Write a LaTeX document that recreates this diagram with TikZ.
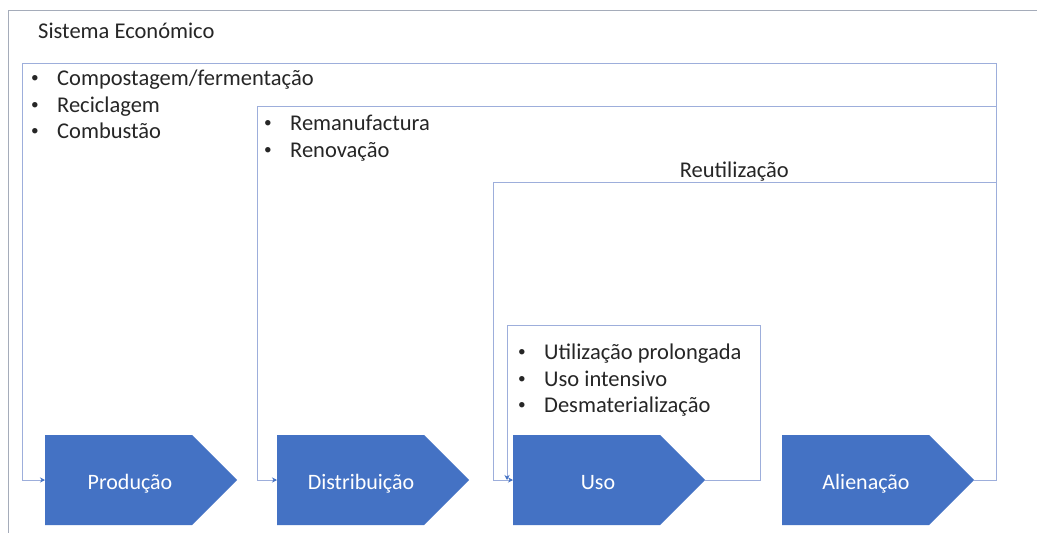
\documentclass[tikz,border=0pt]{standalone}
\usepackage{fontspec}
\usepackage{graphicx}
\setmainfont{Carlito}
\usetikzlibrary{shapes.symbols,arrows.meta}
\definecolor{stageblue}{HTML}{4472C4}
\definecolor{lineblue}{HTML}{9DAEDB}
\definecolor{framegray}{HTML}{A5ACBA}
\newcommand\bulletmark{\makebox[0pt][r]{\makebox[26pt][l]{\raisebox{2.2pt}{\scalebox{0.68}{•}}}}}
\begin{document}
\begin{tikzpicture}[x=1pt,y=-1pt,
  flow/.style={draw=lineblue, line width=0.9pt},
  flowarrow/.style={flow, -{Stealth[length=5pt,width=5pt,color=stageblue]}},
  stage/.style={signal, signal to=east, signal pointer angle=90, fill=stageblue, draw=none,
    minimum width=192pt, minimum height=90pt, inner sep=0pt, anchor=west},
  stagelabel/.style={inner sep=0pt, anchor=base, text=white, font=\fontsize{22}{26}\selectfont},
  item/.style={anchor=base west, inner sep=0pt, text=black!85, font=\fontsize{22.5}{27}\selectfont}
]
\useasboundingbox (0,0) rectangle (1037,533);
\fill[white] (0,0) rectangle (1037,533);
\draw[framegray, line width=1pt] (8,533) -- (8,10) -- (1037,10);

\node[item] (title) at (38,38) {Sistema Económico};

% stages
\node[stage] (prod)  at (45,480) {};
\node[stage] (dist)  at (277,480) {};
\node[stage] (uso)   at (513,480) {};
\node[stage] (alien) at (782,480) {};
\node[stagelabel] (prodl)  at (130,489) {Produção};
\node[stagelabel] (distl)  at (361,489) {Distribuição};
\node[stagelabel] (usol)   at (598,489) {Uso};
\node[stagelabel] (alienl) at (866,489) {Alienação};

% lists
\node[item] (c1) at (57,85) {\bulletmark Compostagem/fermentação};
\node[item] (c2) at (57,112) {\bulletmark Reciclagem};
\node[item] (c3) at (57,138) {\bulletmark Combustão};

\node[item] (m1) at (290,130) {\bulletmark Remanufactura};
\node[item] (m2) at (290,157) {\bulletmark Renovação};

\node[item, anchor=base east] (reut) at (789,177) {Reutilização};

\node[item] (u1) at (544,359) {\bulletmark Utilização prolongada};
\node[item] (u2) at (544,386) {\bulletmark Uso intensivo};
\node[item] (u3) at (544,412) {\bulletmark Desmaterialização};

% loop coordinates
\coordinate (r1) at (996,63);
\coordinate (r2) at (996,106);
\coordinate (r3) at (996,182);
\coordinate (p1) at (22,480);
\coordinate (d1) at (257,480);
\coordinate (s1) at (493,480);
\coordinate (b1) at (760,325);
\coordinate (b2) at (507,480);

\draw[flow] (alien.east) -| (r1);
\draw[flowarrow] (r1) -| (p1) -- (prod.west);
\draw[flowarrow] (r2) -| (d1) -- (dist.west);
\draw[flowarrow] (r3) -| (s1) -- (uso.west);
\draw[flowarrow] (uso.east) -| (b1) -| (b2);
\end{tikzpicture}
\end{document}
